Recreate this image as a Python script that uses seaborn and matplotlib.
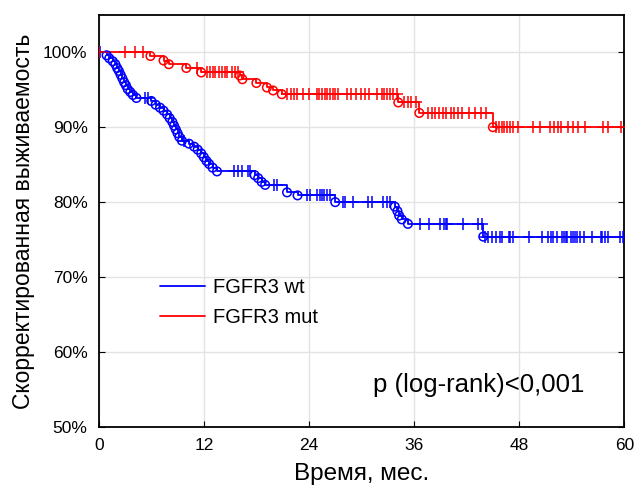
import numpy as np
import pandas as pd
import seaborn as sns
import matplotlib.pyplot as plt
from matplotlib.ticker import PercentFormatter

# Kaplan-Meier steps (months, % surviving after the event)
wt_event_t = [0.9, 1.2, 1.6, 1.9, 2.1, 2.3, 2.5, 2.7, 2.9, 3.1, 3.3, 3.6, 3.9, 4.3,
              6.0, 6.5, 7.0, 7.4, 7.8, 8.1, 8.4, 8.6, 8.8, 9.0, 9.2, 9.5, 10.3,
              10.9, 11.3, 11.7, 12.0, 12.3, 12.6, 13.0, 13.5,
              17.8, 18.2, 18.6, 19.0, 21.5, 22.7, 27.0,
              33.8, 34.1, 34.3, 34.6, 35.3, 43.9]
wt_event_s = [99.6, 99.2, 98.8, 98.4, 97.9, 97.5, 97.0, 96.5, 96.0, 95.6, 95.1, 94.7, 94.3, 93.9,
              93.5, 93.0, 92.6, 92.2, 91.7, 91.2, 90.7, 90.2, 89.7, 89.2, 88.7, 88.2, 87.8,
              87.4, 87.0, 86.5, 86.0, 85.5, 85.1, 84.6, 84.1,
              83.6, 83.2, 82.7, 82.3, 81.3, 80.9, 80.0,
              79.4, 78.8, 78.2, 77.7, 77.1, 75.4]
wt_censor_t = [0.2, 5.3, 5.6, 9.7, 15.5, 15.9, 16.3, 17.0, 17.3, 20.0, 20.3,
               23.8, 24.1, 24.9, 25.3, 25.5, 25.7, 26.1, 26.4, 27.9, 28.1, 29.0,
               30.7, 31.2, 32.5, 32.9, 33.3, 36.7, 37.7, 39.0, 39.4, 39.6, 39.8,
               41.6, 43.3, 43.8, 44.1, 44.5, 44.9, 45.3, 45.8, 46.0, 46.8, 47.0,
               47.3, 49.1, 50.6, 51.3, 51.6, 51.9, 52.3, 52.9, 53.1, 53.3, 53.5,
               53.9, 54.2, 54.4, 54.6, 55.0, 55.4, 56.3, 57.3, 57.5, 57.8, 58.2,
               59.5, 59.9]

mut_event_t = [5.9, 7.4, 8.0, 10.0, 11.7, 16.1, 16.4, 18.0, 19.2, 19.9, 20.9,
               34.2, 36.6, 45.0]
mut_event_s = [99.5, 98.9, 98.4, 97.9, 97.3, 96.9, 96.4, 95.9, 95.3, 94.9, 94.4,
               93.3, 91.9, 90.0]
mut_censor_t = [0.0, 3.0, 4.1, 5.0, 11.2, 12.4, 12.7, 13.0, 13.3, 13.7, 14.1, 14.4,
                14.7, 15.2, 15.6, 15.9, 21.5, 22.0, 22.3, 22.6, 23.3, 24.0, 24.9,
                25.2, 25.5, 25.8, 26.1, 26.4, 26.7, 27.0, 27.3, 28.3, 28.8, 29.4,
                30.0, 30.4, 30.8, 31.8, 32.3, 32.6, 32.9, 33.2, 33.6, 34.0, 34.8,
                35.3, 35.7, 36.2, 37.6, 38.0, 38.4, 38.8, 39.3, 39.7, 40.2, 40.6,
                41.0, 41.5, 42.3, 43.0, 43.6, 44.2, 45.4, 45.7, 46.0, 46.3, 46.6,
                47.0, 47.3, 47.9, 49.6, 50.4, 51.5, 52.0, 52.4, 52.8, 53.6, 54.2,
                54.7, 55.5, 57.6, 58.2, 59.6]

groups = [("FGFR3 wt", wt_event_t, wt_event_s, wt_censor_t, "#0000ff"),
          ("FGFR3 mut", mut_event_t, mut_event_s, mut_censor_t, "#ff0000")]

sns.set_style("ticks")
plt.rcParams["font.family"] = ["Liberation Sans", "DejaVu Sans"]
for k in ["text.color", "axes.labelcolor", "xtick.color", "ytick.color", "axes.edgecolor"]:
    plt.rcParams[k] = "black"

fig = plt.figure(figsize=(6.37, 4.93), dpi=100)
ax = fig.add_axes([0.155, 0.134, 0.825, 0.836])

for name, et, es, ct, col in groups:
    # step curve
    steps = pd.DataFrame({"t": [0.0] + et + [60.0],
                          "s": [100.0] + es + [es[-1]]})
    sns.lineplot(data=steps, x="t", y="s", drawstyle="steps-post", color=col,
                 lw=1.3, estimator=None, sort=False, ax=ax, label=name)
    # events (open circles)
    ev = pd.DataFrame({"t": et, "s": es})
    sns.scatterplot(data=ev, x="t", y="s", marker="o", s=38, facecolor="none",
                    edgecolor=col, linewidth=1.1, ax=ax, zorder=3)
    # censored (+)
    ct = np.array(ct)
    idx = np.searchsorted(np.array(et), ct, side="right")
    cs = np.where(idx == 0, 100.0, np.array([100.0] + es)[idx])
    cen = pd.DataFrame({"t": ct, "s": cs})
    sns.scatterplot(data=cen, x="t", y="s", marker="+", s=70, color=col,
                    linewidth=1.1, ax=ax, zorder=3)

ax.set_xlim(0, 60)
ax.set_ylim(50, 105)
ax.set_xticks([0, 12, 24, 36, 48, 60])
ax.set_yticks([50, 60, 70, 80, 90, 100])
ax.yaxis.set_major_formatter(PercentFormatter(decimals=0))
ax.grid(True, color="#e3e3e3", lw=1)
ax.set_axisbelow(True)
ax.tick_params(direction="in", right=True, length=4, labelsize=12.5, pad=8)
for sp in ax.spines.values():
    sp.set_linewidth(1.3)
    sp.set_visible(True)

ax.set_xlabel("Время, мес.", fontsize=17.5, labelpad=7)
ax.set_ylabel("Скорректированная выживаемость", fontsize=16.5, labelpad=6)

ax.text(31.3, 55.6, "p (log-rank)<0,001", fontsize=18.5, va="center", ha="left")

ax.legend(loc="upper left", bbox_to_anchor=(0.083, 0.405), frameon=False,
          fontsize=14.5, handlelength=2.2, handletextpad=0.4, labelspacing=0.55)

fig.savefig("out.png", dpi=100)
